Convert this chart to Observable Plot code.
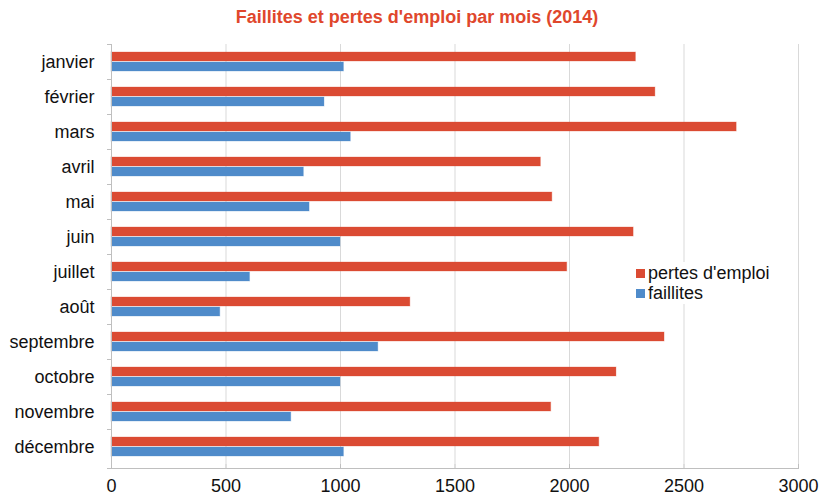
<!DOCTYPE html>
<html>
<head>
<meta charset="utf-8">
<script src="https://cdn.jsdelivr.net/npm/d3@7"></script>
<script src="https://cdn.jsdelivr.net/npm/@observablehq/plot@0.6"></script>
<style>
  body { margin: 0; background: #fff; font-family: "Liberation Sans", Arial, sans-serif; }
  #wrap { position: relative; width: 821px; height: 497px; }
  #title { height: 35px; line-height: 34px; text-align: center; font-weight: bold; font-size: 18px; color: #E0472C; padding-left: 13px; box-sizing: border-box; }
  #legend { position: absolute; left: 630px; top: 262px; background: #fff; padding: 1px 6px; font-size: 18px; color: #111; }
  #legend .row { display: flex; align-items: center; height: 20px; }
  #legend .sw { width: 9px; height: 9px; margin-right: 3px; }
</style>
</head>
<body>
<div id="wrap">
  <div id="title">Faillites et pertes d'emploi par mois (2014)</div>
  <div id="chart"></div>
  <div id="legend"></div>
</div>
<script>
const months = ["janvier","février","mars","avril","mai","juin","juillet","août","septembre","octobre","novembre","décembre"];
const seriesNames = ["pertes d'emploi", "faillites"];
const pertes = [2290, 2375, 2730, 1875, 1925, 2280, 1990, 1305, 2415, 2205, 1920, 2130];
const faillites = [1015, 930, 1045, 840, 865, 1000, 605, 475, 1165, 1000, 785, 1015];
const xTicks = [0, 500, 1000, 1500, 2000, 2500, 3000];
const colors = ["#DB4B33", "#4F8BCA"];

const rows = [];
months.forEach((m, i) => {
  rows.push({month: m, series: seriesNames[0], value: pertes[i]});
  rows.push({month: m, series: seriesNames[1], value: faillites[i]});
});

const chart = Plot.plot({
  width: 821,
  height: 462,
  marginTop: 4,
  marginBottom: 29,
  marginLeft: 111,
  marginRight: 23,
  style: {fontSize: "18px", fontFamily: "'Liberation Sans', Arial, sans-serif", color: "#111", background: "#fff"},
  x: {domain: [0, 3000], ticks: xTicks, tickSize: 5, tickPadding: 10, label: null, tickFormat: d => String(d)},
  y: {domain: seriesNames, axis: null, paddingInner: 0.14, paddingOuter: 0.69},
  fy: {domain: months, padding: 0, label: null, tickSize: 0, tickPadding: 17, axis: "left"},
  color: {domain: seriesNames, range: colors},
  marks: [
    Plot.gridX(xTicks.slice(1), {stroke: "#d9d9d9", strokeOpacity: 1, strokeWidth: 1}),
    Plot.barX(rows, {fy: "month", y: "series", x: "value", fill: "series", stroke: "series", strokeOpacity: 0.3, strokeWidth: 1}),
    Plot.ruleX([0], {stroke: "#bfbfbf", strokeWidth: 1})
  ]
});
document.getElementById("chart").appendChild(chart);

// x-axis baseline and category boundary ticks, via the chart's scales
const svg = d3.select(chart);
const xs = chart.scale("x");
const fys = chart.scale("fy");
const x0 = xs.apply(0), x1 = xs.apply(3000);
const fyEnd = fys.range[1];
const g = svg.append("g").attr("stroke", "#bfbfbf").attr("stroke-width", 1);
g.append("line").attr("x1", x0 - 4).attr("x2", x1).attr("y1", fyEnd + 0.5).attr("y2", fyEnd + 0.5);
const bounds = months.map(m => fys.apply(m)).concat([fyEnd]);
bounds.forEach(b => {
  g.append("line").attr("x1", x0 - 4).attr("x2", x0).attr("y1", b + 0.5).attr("y2", b + 0.5);
});
svg.selectAll("[aria-label='x-axis tick'] path, [aria-label='x-axis tick']").attr("stroke", "#bfbfbf");

// legend
const leg = d3.select("#legend");
seriesNames.forEach((s, i) => {
  const r = leg.append("div").attr("class", "row");
  r.append("div").attr("class", "sw").style("background", colors[i]);
  r.append("span").text(s);
});
</script>
</body>
</html>
